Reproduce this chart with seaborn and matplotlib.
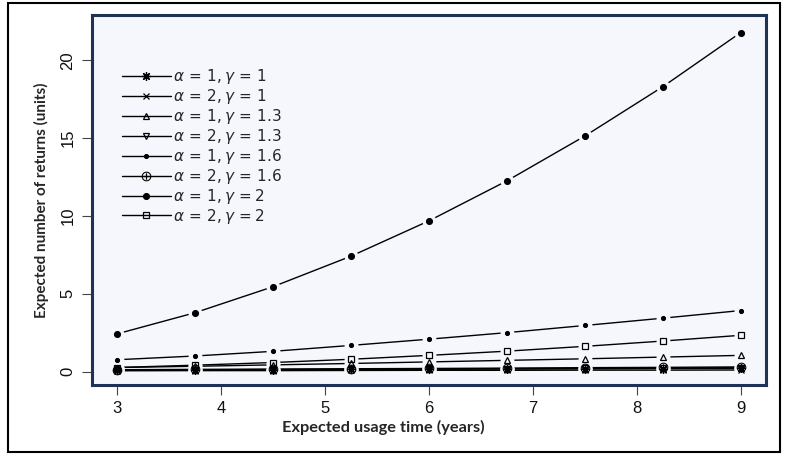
import matplotlib
matplotlib.use("Agg")
import matplotlib.pyplot as plt
import seaborn as sns
import numpy as np
from matplotlib.patches import Rectangle

# Expected usage time (years)
t = [3, 3.75, 4.5, 5.25, 6, 6.75, 7.5, 8.25, 9]

labels = [
    r"$\alpha\,=\,1, \gamma\,=\,1$",
    r"$\alpha\,=\,2, \gamma\,=\,1$",
    r"$\alpha\,=\,1, \gamma\,=\,1.3$",
    r"$\alpha\,=\,2, \gamma\,=\,1.3$",
    r"$\alpha\,=\,1, \gamma\,=\,1.6$",
    r"$\alpha\,=\,2, \gamma\,=\,1.6$",
    r"$\alpha\,=\,1, \gamma\,=2$",
    r"$\alpha\,=\,2, \gamma\,=2$",
]

a1_g1 = [0.10, 0.11, 0.12, 0.14, 0.15, 0.16, 0.17, 0.19, 0.20]
a2_g1 = [0.05, 0.06, 0.06, 0.07, 0.08, 0.08, 0.09, 0.09, 0.10]
a1_g13 = [0.26, 0.34, 0.43, 0.52, 0.62, 0.72, 0.82, 0.93, 1.04]
a2_g13 = [0.09, 0.11, 0.13, 0.15, 0.17, 0.19, 0.21, 0.23, 0.25]
a1_g16 = [0.76, 1.00, 1.30, 1.68, 2.08, 2.50, 2.96, 3.43, 3.92]
a2_g16 = [0.12, 0.14, 0.16, 0.18, 0.20, 0.22, 0.25, 0.27, 0.30]
a1_g2 = [2.42, 3.78, 5.45, 7.41, 9.68, 12.25, 15.13, 18.30, 21.78]
a2_g2 = [0.26, 0.41, 0.58, 0.79, 1.04, 1.31, 1.62, 1.96, 2.33]

series = [a1_g1, a2_g1, a1_g13, a2_g13, a1_g16, a2_g16, a1_g2, a2_g2]

# marker, size, face, edge width
styles = [
    ((8, 2, 0), 6.5, "black", 0.9),
    ("x", 5, "black", 0.9),
    ("^", 5, "none", 0.9),
    ("v", 5, "none", 0.9),
    ("o", 2.8, "black", 0.9),
    (r"$\oplus$", 7, "black", 0.0),
    ("o", 4.2, "black", 0.9),
    ("s", 5, "none", 0.9),
]

bg = "#f6f7fd"

sns.set_theme(style="white")
plt.rcParams["font.family"] = ["Liberation Sans", "DejaVu Sans"]

fig = plt.figure(figsize=(7.87, 4.57), dpi=100)
ax = fig.add_axes([0.117, 0.158, 0.856, 0.809])
ax.set_facecolor(bg)

for vals, lab, (m, ms, fc, mew) in zip(series, labels, styles):
    sns.lineplot(x=t, y=vals, ax=ax, color="black", lw=1.0, label=lab,
                 marker=m, markersize=ms, markerfacecolor=fc,
                 markeredgecolor="black", markeredgewidth=mew, zorder=2)
    # gap around each point (like R type = "b")
    ax.plot(t, vals, linestyle="none", marker="o", markersize=10,
            color=bg, markeredgewidth=0, zorder=3)

for vals, (m, ms, fc, mew) in zip(series, styles):
    ax.plot(t, vals, linestyle="none", marker=m, markersize=ms,
            markerfacecolor=fc, markeredgecolor="black",
            markeredgewidth=mew, zorder=4)

ax.set_xlim(2.76, 9.24)
ax.set_ylim(-0.85, 22.9)
ax.set_xticks([3, 4, 5, 6, 7, 8, 9])
ax.set_yticks([0, 5, 10, 15, 20])
ax.tick_params(axis="both", direction="out", length=7, width=0.8,
               color="#444444", labelsize=12, pad=5, labelcolor="#111111",
               bottom=True, left=True)
for lbl in ax.get_yticklabels():
    lbl.set_rotation(90)
    lbl.set_va("center")

for sp in ax.spines.values():
    sp.set_color("#1f3356")
    sp.set_linewidth(2.2)

ax.set_xlabel("Expected usage time (years)", fontsize=11.8, fontweight="bold",
              family=["Lato", "DejaVu Sans"], labelpad=3)
ax.xaxis.set_label_coords(0.433, -0.095)
ax.set_ylabel("Expected number of returns (units)", fontsize=11, fontweight="bold",
              family=["Lato", "DejaVu Sans"], labelpad=8)

leg = ax.legend(loc="upper left", bbox_to_anchor=(0.035, 0.875), frameon=False,
                fontsize=11, handlelength=3.2, handletextpad=0.15,
                labelspacing=0.06, borderaxespad=0)

fig.patches.append(Rectangle((0.010, 0.011), 0.981, 0.982, transform=fig.transFigure,
                             fill=False, edgecolor="black", linewidth=1.5))

fig.savefig("out.png", dpi=100)
